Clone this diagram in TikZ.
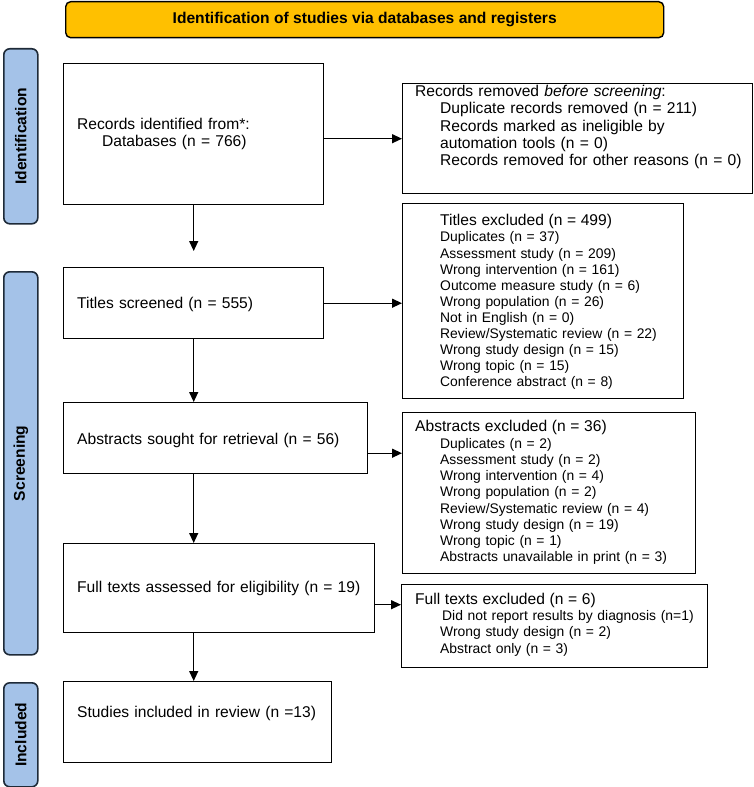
\documentclass[tikz,border=0pt]{standalone}
\usepackage{fontspec}
\setmainfont{Liberation Sans}
\usetikzlibrary{arrows.meta,calc}
\definecolor{titlefill}{HTML}{FFC000}
\definecolor{sidefill}{HTML}{A4C2E8}
\definecolor{sideedge}{HTML}{1E2A38}
\newcommand{\bigf}{\fontsize{15.6bp}{17.2bp}\selectfont}
\newcommand{\smallf}{\fontsize{13.9bp}{16.1bp}\selectfont}
\begin{document}
\begin{tikzpicture}[x=1bp,y=-1bp,
  box/.style={draw=black, line width=1.4bp, anchor=north west, inner sep=0},
  side/.style={draw=sideedge, fill=sidefill, line width=1.6bp, rounded corners=6bp, anchor=north west, inner sep=0},
  sidelabel/.style={rotate=90, font=\bigf\bfseries, inner sep=0},
  txt/.style={anchor=base west, inner sep=0, text width=340bp, align=left},
  arr/.style={line width=1.3bp, -{Triangle[length=10bp,width=9bp]}},
]
\useasboundingbox (0,0) rectangle (754,787);

% title
\node[draw=black, fill=titlefill, rounded corners=5bp, line width=1.4bp, minimum width=598bp, minimum height=36bp, anchor=north west, inner sep=0, font=\bigf\bfseries] (title) at (65,1) {Identification of studies via databases and registers};

% side bars
\node[side, minimum width=34bp, minimum height=175bp] (idside) at (3,48) {};
\node[side, minimum width=34bp, minimum height=383bp] (scside) at (3,271) {};
\node[side, minimum width=34bp, minimum height=104bp] (inside) at (3,682) {};
\node[sidelabel] (idlabel) at (idside.center) {Identification};
\node[sidelabel] (sclabel) at (scside.center) {Screening};
\node[sidelabel] (inlabel) at (inside.center) {Included};

% boxes
\node[box, minimum width=260bp, minimum height=141bp] (rec) at (63,63) {};
\node[box, minimum width=350bp, minimum height=110bp] (rem) at (402,83) {};
\node[box, minimum width=281bp, minimum height=195bp] (texc) at (402,203) {};
\node[box, minimum width=260bp, minimum height=71bp] (tsc) at (63,267) {};
\node[box, minimum width=304bp, minimum height=71bp] (abs) at (63,402) {};
\node[box, minimum width=293bp, minimum height=161bp] (abex) at (402,412) {};
\node[box, minimum width=311bp, minimum height=89bp] (fta) at (63,543) {};
\node[box, minimum width=306bp, minimum height=83bp] (ftex) at (401,584) {};
\node[box, minimum width=268bp, minimum height=81bp] (inc) at (63,681) {};

% texts
\node[txt, font=\bigf] (rectxt) at (77,129.3) {Records identified from*:\\
\hspace*{25bp}Databases (n = 766)};
\node[txt, font=\bigf] (remtxt) at (415,96.7) {Records removed \textit{before screening}:\\
\hspace*{25bp}Duplicate records removed (n = 211)\\
\hspace*{25bp}Records marked as ineligible by\\
\hspace*{25bp}automation tools (n = 0)\\
\hspace*{25bp}Records removed for other reasons (n = 0)};
\node[txt, font=\smallf] (texctxt) at (440,225.8) {{\bigf Titles excluded (n = 499)}\\
Duplicates (n = 37)\\
Assessment study (n = 209)\\
Wrong intervention (n = 161)\\
Outcome measure study (n = 6)\\
Wrong population (n = 26)\\
Not in English (n = 0)\\
Review/Systematic review (n = 22)\\
Wrong study design (n = 15)\\
Wrong topic (n = 15)\\
Conference abstract (n = 8)};
\node[txt, font=\fontsize{13.9bp}{16.2bp}\selectfont] (abextxt) at (415,431.7) {{\bigf Abstracts excluded (n = 36)}\\[0.4bp]
\hspace*{25bp}Duplicates (n = 2)\\
\hspace*{25bp}Assessment study (n = 2)\\
\hspace*{25bp}Wrong intervention (n = 4)\\
\hspace*{25bp}Wrong population (n = 2)\\
\hspace*{25bp}Review/Systematic review (n = 4)\\
\hspace*{25bp}Wrong study design (n = 19)\\
\hspace*{25bp}Wrong topic (n = 1)\\
\hspace*{25bp}Abstracts unavailable in print (n = 3)};
\node[txt, font=\fontsize{13.9bp}{16.3bp}\selectfont] (ftextxt) at (415,604.3) {{\bigf Full texts excluded (n = 6)}\\
\hspace*{27bp}Did not report results by diagnosis (n=1)\\
\hspace*{25bp}Wrong study design (n = 2)\\
\hspace*{25bp}Abstract only (n = 3)};
\node[txt, font=\bigf] (tsctxt) at (77,308) {Titles screened (n = 555)};
\node[txt, font=\bigf] (abstxt) at (77,444.6) {Abstracts sought for retrieval (n = 56)};
\node[txt, font=\bigf] (ftatxt) at (77,592.6) {Full texts assessed for eligibility (n = 19)};
\node[txt, font=\bigf] (inctxt) at (77,717.5) {Studies included in review (n =13)};

% arrows
\draw[arr] (rec.east |- rem.west) -- (rem.west);
\draw[arr] (tsc.east) -- (tsc.east -| texc.west);
\draw[arr] ([yshift=-15bp]abs.east) -- ([yshift=-15bp]abs.east -| abex.west);
\draw[arr] ([yshift=-16.5bp]fta.east) -- ([yshift=-16.5bp]fta.east -| ftex.west);
\draw[arr] (rec.south) -- ([yshift=16bp]tsc.north);
\draw[arr] (tsc.south) -- (tsc.south |- abs.north);
\draw[arr] (abs.south -| tsc.south) -- (tsc.south |- fta.north);
\draw[arr] (fta.south -| tsc.south) -- (tsc.south |- inc.north);
\end{tikzpicture}
\end{document}
